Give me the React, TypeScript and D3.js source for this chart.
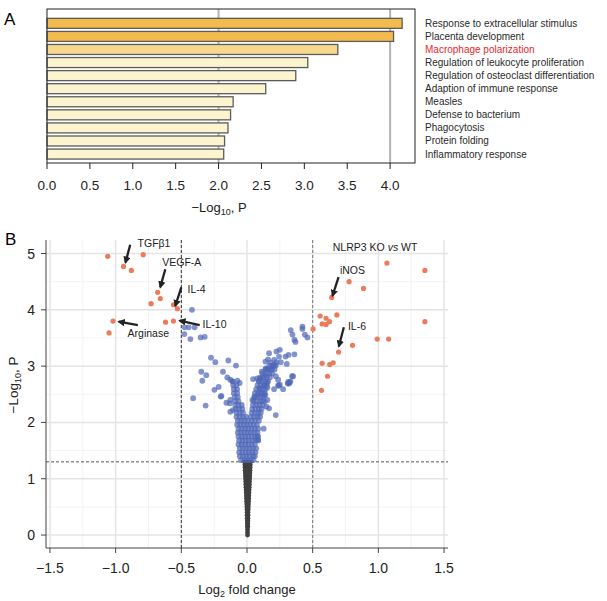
import React, { useEffect, useRef } from "react";
import { select, scaleLinear, scaleBand, scaleThreshold, range } from "d3";

// panel A: enrichment terms (top to bottom) and -log10 P
const termsA = [
  "Response to extracellular stimulus",
  "Placenta development",
  "Macrophage polarization",
  "Regulation of leukocyte proliferation",
  "Regulation of osteoclast differentiation",
  "Adaption of immune response",
  "Measles",
  "Defense to bacterium",
  "Phagocytosis",
  "Protein folding",
  "Inflammatory response",
];
const valuesA = [4.14, 4.04, 3.39, 3.04, 2.9, 2.55, 2.17, 2.14, 2.11, 2.07, 2.06];
const ticksA = [0, 0.5, 1, 1.5, 2, 2.5, 3, 3.5, 4];

// panel B: volcano points [log2FC, -log10 P]
const redPoints = [
  [-1.06, 4.95], [-0.94, 4.77], [-0.88, 4.7], [-0.79, 4.98], [-0.68, 4.31], [-0.66, 4.2],
  [-0.73, 4.11], [-0.56, 4.09], [-0.53, 4.02], [-1.02, 3.8], [-1.05, 3.59], [-0.62, 3.78],
  [-0.56, 3.8],
  [1.065, 4.83], [1.354, 4.7], [0.777, 4.5], [0.887, 4.38], [0.645, 4.22], [0.684, 3.91],
  [0.557, 3.89], [0.602, 3.85], [0.628, 3.79], [0.572, 3.75], [0.602, 3.74], [0.503, 3.66],
  [1.354, 3.79], [0.991, 3.48], [1.078, 3.48], [0.803, 3.37], [0.697, 3.25], [0.572, 3.05],
  [0.63, 3.03], [0.656, 3.06], [0.613, 2.82], [0.567, 2.57],
];
const bluePoints = [
  [-0.419, 4.0], [-0.475, 3.69], [-0.444, 3.69], [-0.399, 3.69], [-0.477, 3.57], [-0.431, 3.48],
  [-0.353, 3.51], [-0.322, 3.52], [-0.274, 3.15], [-0.241, 3.07], [-0.142, 3.1], [-0.084, 3.01],
  [-0.348, 2.9], [-0.31, 2.84], [-0.34, 2.74], [-0.183, 2.9], [-0.15, 2.8], [-0.127, 2.76],
  [-0.11, 2.73], [-0.073, 2.74], [-0.056, 2.7], [-0.248, 2.58], [-0.216, 2.63], [-0.2, 2.46],
  [-0.41, 2.43], [-0.315, 2.3], [-0.157, 2.35], [-0.127, 2.4], [-0.127, 2.19], [-0.107, 2.22],
  [-0.195, 2.47], [-0.13, 2.34],
  [0.333, 3.64], [0.346, 3.56], [0.361, 3.47], [0.369, 3.43], [0.422, 3.7], [0.422, 3.66],
  [0.44, 3.56], [0.46, 3.51], [0.25, 3.29], [0.257, 3.07], [0.25, 2.67], [0.293, 3.17],
  [0.316, 3.2], [0.361, 3.21], [0.303, 3.04], [0.343, 2.82], [0.325, 2.71], [0.31, 2.69],
  [0.224, 3.26], [0.168, 3.23], [0.16, 3.12], [0.18, 3.06], [0.206, 3.11], [0.224, 3.07],
  [0.244, 3.17], [0.14, 3.08], [0.155, 2.95], [0.112, 2.9], [0.102, 2.78], [0.076, 2.78],
  [0.046, 2.77], [0.097, 2.61], [0.13, 2.66], [0.206, 2.59], [0.237, 2.66], [0.313, 2.72],
  [0.219, 2.13], [0.14, 2.49], [0.135, 2.37], [0.143, 2.96], [0.135, 2.83], [0.092, 2.74],
  [0.155, 2.71], [0.186, 2.96], [0.198, 3.0], [0.211, 3.02], [0.219, 2.82], [0.237, 2.76],
  [0.351, 2.82], [0.275, 2.59], [0.155, 2.62], [0.13, 2.48], [0.155, 2.4], [0.148, 2.28],
  [0.168, 2.25], [0.127, 1.89], [0.084, 1.75], [0.084, 1.69], [0.041, 2.4], [0.059, 2.46],
  [0.084, 2.49], [0.11, 2.52], [0.33, 2.73], [0.32, 2.69], [0.242, 2.65],
];
// dense blue core, one row per -log10 P level: [y, x values]
const blueCoreRows = [
  [1.33, [-0.045, -0.02, 0.005, 0.03, 0.05]],
  [1.4, [-0.055, -0.03, -0.005, 0.02, 0.045, 0.06]],
  [1.47, [-0.06, -0.035, -0.01, 0.015, 0.04, 0.065]],
  [1.54, [-0.055, -0.03, -0.005, 0.02, 0.045, 0.07]],
  [1.61, [-0.065, -0.04, -0.015, 0.01, 0.035, 0.06]],
  [1.68, [-0.06, -0.035, -0.01, 0.015, 0.04, 0.065, 0.085]],
  [1.75, [-0.065, -0.04, -0.015, 0.01, 0.035, 0.06, 0.08]],
  [1.82, [-0.07, -0.045, -0.02, 0.005, 0.03, 0.055, 0.08]],
  [1.89, [-0.065, -0.04, -0.015, 0.01, 0.035, 0.06, 0.085]],
  [1.96, [-0.075, -0.05, -0.025, 0.0, 0.025, 0.05, 0.075]],
  [2.03, [-0.07, -0.045, -0.02, 0.005, 0.035, 0.06, 0.09]],
  [2.1, [-0.08, -0.055, -0.03, -0.005, 0.03, 0.055, 0.08, 0.1]],
  [2.17, [-0.08, -0.055, -0.03, 0.035, 0.06, 0.085, 0.105]],
  [2.24, [-0.085, -0.06, -0.035, 0.04, 0.065, 0.09, 0.11]],
  [2.31, [-0.09, -0.065, -0.04, 0.045, 0.07, 0.095, 0.12]],
  [2.38, [-0.09, -0.065, 0.05, 0.075, 0.1, 0.12]],
  [2.45, [-0.095, -0.07, 0.055, 0.08, 0.105, 0.125]],
  [2.52, [-0.1, -0.075, 0.06, 0.085, 0.11, 0.135]],
  [2.59, [-0.1, -0.075, 0.07, 0.095, 0.12, 0.14]],
  [2.66, [-0.105, -0.08, 0.08, 0.105, 0.13, 0.15]],
  [2.73, [-0.11, 0.09, 0.115, 0.14, 0.16]],
  [2.8, [0.1, 0.125, 0.15, 0.175]],
  [2.87, [0.12, 0.145, 0.17, 0.19]],
  [2.94, [0.14, 0.165, 0.19, 0.21]],
  [3.01, [0.17, 0.195, 0.22]],
];
// non-significant wedge below P = 0.05
const greyRows = [
  [0.0, [0.004]], [0.05, [0.004]], [0.1, [0.004]], [0.15, [0.003, 0.006]],
  [0.2, [0.003, 0.006]], [0.25, [0.002, 0.007]], [0.3, [0.002, 0.007]], [0.35, [0.001, 0.008]],
  [0.4, [0.001, 0.008]], [0.45, [0.0, 0.009]], [0.5, [-0.001, 0.01]], [0.55, [-0.002, 0.011]],
  [0.6, [-0.003, 0.005, 0.012]], [0.65, [-0.004, 0.005, 0.013]], [0.7, [-0.005, 0.005, 0.014]],
  [0.75, [-0.006, 0.005, 0.015]], [0.8, [-0.007, 0.005, 0.016]], [0.85, [-0.008, 0.005, 0.017]],
  [0.9, [-0.009, 0.005, 0.018]], [0.95, [-0.01, 0.005, 0.019]], [1.0, [-0.011, 0.0, 0.01, 0.02]],
  [1.05, [-0.012, 0.0, 0.01, 0.021]], [1.1, [-0.013, 0.0, 0.01, 0.022]],
  [1.15, [-0.014, 0.0, 0.01, 0.023]], [1.2, [-0.015, 0.0, 0.01, 0.024]],
  [1.25, [-0.016, 0.0, 0.01, 0.025]], [1.3, [-0.017, 0.0, 0.01, 0.026]],
];
const ticksBx = [-1.5, -1, -0.5, 0, 0.5, 1, 1.5];
const ticksBy = [0, 1, 2, 3, 4, 5];

// labels: text position, arrow from -> to (data units)
const labelsB = [
  { text: "TGFβ1", tx: -0.833, ty: 5.19, from: [-0.889, 5.155], to: [-0.925, 4.84] },
  { text: "VEGF-A", tx: -0.645, ty: 4.85, from: [-0.622, 4.72], to: [-0.66, 4.4] },
  { text: "IL-4", tx: -0.452, ty: 4.37, from: [-0.5, 4.4], to: [-0.546, 4.07] },
  { text: "IL-10", tx: -0.338, ty: 3.75, from: [-0.36, 3.73], to: [-0.513, 3.81] },
  { text: "Arginase", tx: -0.909, ty: 3.59, from: [-0.831, 3.73], to: [-0.976, 3.79] },
  { text: "iNOS", tx: 0.707, ty: 4.71, from: [0.697, 4.58], to: [0.651, 4.25] },
  { text: "IL-6", tx: 0.768, ty: 3.72, from: [0.737, 3.69], to: [0.699, 3.35] },
];

const FONT = "'Liberation Sans', Arial, sans-serif";

const flattenRows = (rows) => rows.flatMap(([y, xs]) => xs.map((x) => [x, y]));

function App() {
  const svgRef = useRef(null);

  useEffect(() => {
    const svg = select(svgRef.current);
    svg.selectAll("*").remove();
    svg.style("font-family", FONT);

    // ---------- panel A ----------
    const xA = scaleLinear().domain([0, 4.29]).range([47, 415]);
    const yA = scaleBand().domain(termsA).range([16.8, 160.6]).paddingInner(0.235).paddingOuter(0.1175);
    const colorA = scaleThreshold().domain([3.2, 4]).range(["#FCF4CF", "#F6D98D", "#F3BA4E"]);
    const gA = svg.append("g");

    gA.append("text").attr("x", 4).attr("y", 25).attr("font-size", 17).text("A");

    [2, 4].forEach((v) => {
      gA.append("line")
        .attr("x1", xA(v)).attr("x2", xA(v)).attr("y1", 9).attr("y2", 163)
        .attr("stroke", "#b3b3b3").attr("stroke-width", 2);
    });

    gA.selectAll(".barA")
      .data(valuesA)
      .join("rect")
      .attr("class", "barA")
      .attr("x", xA(0))
      .attr("y", (d, i) => yA(termsA[i]))
      .attr("width", (d) => xA(d) - xA(0))
      .attr("height", yA.bandwidth())
      .attr("fill", (d) => colorA(d))
      .attr("stroke", "#5c5c5c")
      .attr("stroke-width", 1.3);

    gA.append("rect")
      .attr("x", 47).attr("y", 9).attr("width", 415 - 47).attr("height", 163 - 9)
      .attr("fill", "none").attr("stroke", "#222").attr("stroke-width", 1);

    gA.selectAll(".tickA")
      .data(ticksA)
      .join("line")
      .attr("class", "tickA")
      .attr("x1", (d) => xA(d)).attr("x2", (d) => xA(d))
      .attr("y1", 163).attr("y2", 169)
      .attr("stroke", "#222");

    gA.selectAll(".tickLabelA")
      .data(ticksA)
      .join("text")
      .attr("class", "tickLabelA")
      .attr("x", (d) => xA(d)).attr("y", 190)
      .attr("text-anchor", "middle").attr("font-size", 13.5).attr("fill", "#222")
      .text((d) => d.toFixed(1));

    const titleA = gA.append("text").attr("x", 219).attr("y", 212)
      .attr("text-anchor", "middle").attr("font-size", 13).attr("fill", "#222");
    titleA.append("tspan").text("−Log");
    titleA.append("tspan").attr("font-size", 9).attr("dy", 3).text("10");
    titleA.append("tspan").attr("dy", -3).text(", P");

    gA.selectAll(".termA")
      .data(termsA)
      .join("text")
      .attr("class", "termA")
      .attr("x", 425)
      .attr("y", (d) => yA(d) + yA.bandwidth() / 2)
      .attr("dominant-baseline", "central")
      .attr("font-size", 10)
      .attr("fill", (d) => (d === "Macrophage polarization" ? "#e8262a" : "#2a2a2a"))
      .text((d) => d);

    // ---------- panel B ----------
    const xB = scaleLinear().domain([-1.53, 1.53]).range([46, 448]);
    const yB = scaleLinear().domain([-0.23, 5.24]).range([548, 240]);
    const gB = svg.append("g");

    gB.append("text").attr("x", 5).attr("y", 245).attr("font-size", 17).text("B");

    const minorX = range(-1.25, 1.5, 0.5);
    const minorY = range(0.5, 5.5, 1);
    gB.selectAll(".minorX").data(minorX).join("line")
      .attr("x1", (d) => xB(d)).attr("x2", (d) => xB(d)).attr("y1", 240).attr("y2", 548)
      .attr("stroke", "#f0f0f0").attr("stroke-width", 0.8);
    gB.selectAll(".minorY").data(minorY).join("line")
      .attr("x1", 46).attr("x2", 448).attr("y1", (d) => yB(d)).attr("y2", (d) => yB(d))
      .attr("stroke", "#f0f0f0").attr("stroke-width", 0.8);
    gB.selectAll(".majorX").data(ticksBx).join("line")
      .attr("x1", (d) => xB(d)).attr("x2", (d) => xB(d)).attr("y1", 240).attr("y2", 548)
      .attr("stroke", "#e4e4e4").attr("stroke-width", 1.5);
    gB.selectAll(".majorY").data(ticksBy).join("line")
      .attr("x1", 46).attr("x2", 448).attr("y1", (d) => yB(d)).attr("y2", (d) => yB(d))
      .attr("stroke", "#e4e4e4").attr("stroke-width", 1.5);

    // threshold lines
    [-0.5, 0.5].forEach((v) => {
      gB.append("line")
        .attr("x1", xB(v)).attr("x2", xB(v)).attr("y1", 240).attr("y2", 548)
        .attr("stroke", v < 0 ? "#333" : "#777").attr("stroke-width", 1).attr("stroke-dasharray", "3,2");
    });
    gB.append("line")
      .attr("x1", 46).attr("x2", 448).attr("y1", yB(1.3)).attr("y2", yB(1.3))
      .attr("stroke", "#555").attr("stroke-width", 1).attr("stroke-dasharray", "3,2");

    gB.selectAll(".grey").data(flattenRows(greyRows)).join("circle")
      .attr("cx", (d) => xB(d[0])).attr("cy", (d) => yB(d[1])).attr("r", 2.4)
      .attr("fill", "#404040");
    gB.selectAll(".blue").data(bluePoints.concat(flattenRows(blueCoreRows))).join("circle")
      .attr("cx", (d) => xB(d[0])).attr("cy", (d) => yB(d[1])).attr("r", 2.9)
      .attr("fill", "#4f66b8").attr("fill-opacity", 0.7);
    gB.selectAll(".red").data(redPoints).join("circle")
      .attr("cx", (d) => xB(d[0])).attr("cy", (d) => yB(d[1])).attr("r", 2.6)
      .attr("fill", "#ec7b5b");

    // axes
    gB.append("line").attr("x1", 46).attr("x2", 46).attr("y1", 240).attr("y2", 548)
      .attr("stroke", "#444").attr("stroke-width", 1);
    gB.append("line").attr("x1", 46).attr("x2", 448).attr("y1", 548).attr("y2", 548)
      .attr("stroke", "#444").attr("stroke-width", 1);
    gB.selectAll(".tickBx").data(ticksBx).join("line")
      .attr("x1", (d) => xB(d)).attr("x2", (d) => xB(d)).attr("y1", 548).attr("y2", 553)
      .attr("stroke", "#444");
    gB.selectAll(".tickBy").data(ticksBy).join("line")
      .attr("x1", 41).attr("x2", 46).attr("y1", (d) => yB(d)).attr("y2", (d) => yB(d))
      .attr("stroke", "#444");
    gB.selectAll(".tickLabelBx").data(ticksBx).join("text")
      .attr("x", (d) => xB(d)).attr("y", 573)
      .attr("text-anchor", "middle").attr("font-size", 14).attr("fill", "#222")
      .text((d) => (d < 0 ? "−" : "") + Math.abs(d).toFixed(1));
    gB.selectAll(".tickLabelBy").data(ticksBy).join("text")
      .attr("x", 35).attr("y", (d) => yB(d))
      .attr("dominant-baseline", "central")
      .attr("text-anchor", "end").attr("font-size", 14).attr("fill", "#222")
      .text((d) => d);

    const titleBx = gB.append("text").attr("x", 247).attr("y", 594)
      .attr("text-anchor", "middle").attr("font-size", 13).attr("fill", "#222");
    titleBx.append("tspan").text("Log");
    titleBx.append("tspan").attr("font-size", 9).attr("dy", 3).text("2");
    titleBx.append("tspan").attr("dy", -3).text(" fold change");

    const titleBy = gB.append("text")
      .attr("transform", "translate(18,385) rotate(-90)")
      .attr("text-anchor", "middle").attr("font-size", 13.5).attr("fill", "#222");
    titleBy.append("tspan").text("−Log");
    titleBy.append("tspan").attr("font-size", 9).attr("dy", 3).text("10");
    titleBy.append("tspan").attr("dy", -3).text(", P");

    // arrows and labels
    const defs = svg.append("defs");
    defs.append("marker")
      .attr("id", "arrowHead")
      .attr("viewBox", "0 0 10 10")
      .attr("refX", 8).attr("refY", 5)
      .attr("markerWidth", 3.2).attr("markerHeight", 3.2)
      .attr("orient", "auto")
      .append("path").attr("d", "M0,0 L10,5 L0,10 z").attr("fill", "#222");

    gB.selectAll(".arrowB").data(labelsB).join("line")
      .attr("x1", (d) => xB(d.from[0])).attr("y1", (d) => yB(d.from[1]))
      .attr("x2", (d) => xB(d.to[0])).attr("y2", (d) => yB(d.to[1]))
      .attr("stroke", "#222").attr("stroke-width", 2.3)
      .attr("marker-end", "url(#arrowHead)");
    gB.selectAll(".labelB").data(labelsB).join("text")
      .attr("x", (d) => xB(d.tx)).attr("y", (d) => yB(d.ty))
      .attr("dominant-baseline", "central")
      .attr("font-size", 10.5).attr("fill", "#222")
      .text((d) => d.text);

    const cond = gB.append("text").attr("x", xB(0.653)).attr("y", yB(5.12))
      .attr("dominant-baseline", "central").attr("font-size", 10.5).attr("fill", "#222");
    cond.append("tspan").text("NLRP3 KO ");
    cond.append("tspan").attr("font-style", "italic").text("vs");
    cond.append("tspan").text(" WT");
  }, []);

  return (
    <svg
      ref={svgRef}
      width={607}
      height={601}
      style={{ position: "absolute", left: 0, top: 0, background: "#fff" }}
    />
  );
}

export default App;
